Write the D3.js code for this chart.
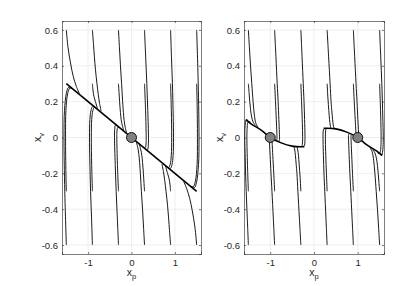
<!DOCTYPE html>
<html>
<head>
<meta charset="utf-8">
<script src="https://cdn.jsdelivr.net/npm/d3@7"></script>
<style>
  body { margin: 0; background: #fff; }
  text { font-family: "Liberation Sans", Arial, sans-serif; fill: #262626; }
</style>
</head>
<body>
<svg id="fig" width="415" height="286"></svg>
<script>
// axis limits and ticks
var xLimits = [-1.6, 1.6];
var yLimits = [-0.65, 0.65];
var xTicks = [-1, 0, 1];
var yTicks = [-0.6, -0.4, -0.2, 0, 0.2, 0.4, 0.6];

// equilibrium points (grey circles)
var leftEquilibria = [[0, 0]];
var rightEquilibria = [[-1, 0], [1, 0]];

// sliding curves
var leftSurface = [[-1.5, 0.3], [1.5, -0.3]];
var rightSurfaceNeg = [[-1.56, 0.1], [-1.43, 0.075], [-1.2, 0.04], [-1, 0], [-0.75, -0.03], [-0.5, -0.048], [-0.3, -0.052], [-0.22, -0.051]];
var rightSurfacePos = [[0.22, 0.051], [0.3, 0.052], [0.5, 0.048], [0.75, 0.03], [1, 0], [1.2, -0.04], [1.43, -0.075], [1.56, -0.1]];

// trajectories of the left panel, [x_p, x_v] points
var leftTrajectories = [
  [[-1.5, 0.6], [-1.46, 0.5], [-1.40, 0.41], [-1.34, 0.34], [-1.27, 0.285], [-1.2, 0.245]],
  [[-1.5, -0.3], [-1.51, -0.2], [-1.518, 0], [-1.51, 0.15], [-1.47, 0.245], [-1.42, 0.275], [-1.35, 0.27]],
  [[-1.5, -0.6], [-1.536, -0.3], [-1.554, 0], [-1.543, 0.15], [-1.497, 0.25], [-1.448, 0.28], [-1.38, 0.276]],
  [[-0.9, 0.6], [-0.875, 0.52], [-0.854, 0.45], [-0.83, 0.38], [-0.795, 0.3], [-0.765, 0.24], [-0.735, 0.19], [-0.7, 0.148]],
  [[-0.9, 0.3], [-0.885, 0.26], [-0.865, 0.23], [-0.83, 0.2], [-0.78, 0.158]],
  [[-0.9, -0.3], [-0.917, -0.15], [-0.925, 0], [-0.916, 0.1], [-0.89, 0.15], [-0.855, 0.168], [-0.8, 0.162]],
  [[-0.9, -0.6], [-0.92, -0.45], [-0.942, -0.3], [-0.96, -0.12], [-0.967, 0], [-0.958, 0.1], [-0.933, 0.15], [-0.897, 0.172], [-0.84, 0.17]],
  [[-0.3, 0.6], [-0.277, 0.5], [-0.254, 0.4], [-0.228, 0.3], [-0.204, 0.2], [-0.18, 0.12], [-0.155, 0.07], [-0.115, 0.027]],
  [[-0.3, 0.3], [-0.287, 0.25], [-0.274, 0.2], [-0.255, 0.14], [-0.238, 0.1], [-0.215, 0.07], [-0.18, 0.04]],
  [[-0.3, -0.3], [-0.324, -0.15], [-0.338, 0], [-0.336, 0.03], [-0.327, 0.05], [-0.31, 0.058], [-0.27, 0.055]],
  [[-0.3, -0.6], [-0.326, -0.45], [-0.353, -0.3], [-0.375, -0.15], [-0.391, 0], [-0.386, 0.045], [-0.37, 0.068], [-0.33, 0.067]],
  [[0.3, 0.6], [0.326, 0.45], [0.353, 0.3], [0.375, 0.15], [0.391, 0], [0.386, -0.045], [0.37, -0.068], [0.33, -0.067]],
  [[0.3, 0.3], [0.324, 0.15], [0.338, 0], [0.336, -0.03], [0.327, -0.05], [0.31, -0.058], [0.27, -0.055]],
  [[0.3, -0.3], [0.287, -0.25], [0.274, -0.2], [0.255, -0.14], [0.238, -0.1], [0.215, -0.07], [0.18, -0.04]],
  [[0.3, -0.6], [0.277, -0.5], [0.254, -0.4], [0.228, -0.3], [0.204, -0.2], [0.18, -0.12], [0.155, -0.07], [0.115, -0.027]],
  [[0.9, 0.6], [0.92, 0.45], [0.942, 0.3], [0.96, 0.12], [0.967, 0], [0.958, -0.1], [0.933, -0.15], [0.897, -0.172], [0.84, -0.17]],
  [[0.9, 0.3], [0.917, 0.15], [0.925, 0], [0.916, -0.1], [0.89, -0.15], [0.855, -0.168], [0.8, -0.162]],
  [[0.9, -0.3], [0.885, -0.26], [0.865, -0.23], [0.83, -0.2], [0.78, -0.158]],
  [[0.9, -0.6], [0.875, -0.52], [0.854, -0.45], [0.83, -0.38], [0.795, -0.3], [0.765, -0.24], [0.735, -0.19], [0.7, -0.148]],
  [[1.5, 0.6], [1.536, 0.3], [1.554, 0], [1.543, -0.15], [1.497, -0.25], [1.448, -0.28], [1.38, -0.276]],
  [[1.5, 0.3], [1.51, 0.2], [1.518, 0], [1.51, -0.15], [1.47, -0.245], [1.42, -0.275], [1.35, -0.27]],
  [[1.5, -0.6], [1.46, -0.5], [1.40, -0.41], [1.34, -0.34], [1.27, -0.285], [1.2, -0.245]]
];

// trajectories of the right panel
var rightTrajectories = [
  [[-1.5, 0.6], [-1.476, 0.5], [-1.451, 0.4], [-1.422, 0.3], [-1.392, 0.2], [-1.365, 0.13], [-1.33, 0.08], [-1.28, 0.055]],
  [[-1.5, 0.3], [-1.484, 0.25], [-1.468, 0.2], [-1.45, 0.155], [-1.425, 0.115], [-1.39, 0.085], [-1.34, 0.068]],
  [[-1.5, -0.3], [-1.521, -0.15], [-1.534, 0], [-1.529, 0.05], [-1.515, 0.08], [-1.49, 0.09], [-1.45, 0.085]],
  [[-1.5, -0.6], [-1.525, -0.45], [-1.55, -0.3], [-1.572, -0.12], [-1.583, 0], [-1.579, 0.05], [-1.565, 0.085], [-1.545, 0.1], [-1.5, 0.093]],
  [[-0.9, 0.6], [-0.87, 0.45], [-0.841, 0.3], [-0.82, 0.2], [-0.803, 0.1], [-0.792, 0.03], [-0.788, -0.01], [-0.795, -0.02]],
  [[-0.9, 0.3], [-0.88, 0.2], [-0.862, 0.1], [-0.85, 0.03], [-0.846, -0.005], [-0.85, -0.014]],
  [[-0.9, -0.3], [-0.92, -0.2], [-0.942, -0.1], [-0.955, -0.04], [-0.961, -0.015], [-0.965, -0.005]],
  [[-0.9, -0.6], [-0.93, -0.45], [-0.961, -0.3], [-0.983, -0.2], [-1.003, -0.1], [-1.015, -0.045], [-1.022, -0.015], [-1.024, 0.002], [-1.01, 0.003]],
  [[-0.3, 0.6], [-0.273, 0.45], [-0.246, 0.3], [-0.228, 0.2], [-0.215, 0.1], [-0.207, 0.02], [-0.208, -0.025], [-0.218, -0.044], [-0.25, -0.052]],
  [[-0.3, 0.3], [-0.284, 0.2], [-0.269, 0.1], [-0.261, 0.02], [-0.263, -0.03], [-0.273, -0.045], [-0.3, -0.052]],
  [[-0.3, -0.3], [-0.318, -0.22], [-0.339, -0.15], [-0.355, -0.1], [-0.372, -0.07], [-0.39, -0.052], [-0.42, -0.05]],
  [[-0.3, -0.6], [-0.334, -0.45], [-0.368, -0.3], [-0.39, -0.2], [-0.407, -0.15], [-0.425, -0.1], [-0.44, -0.07], [-0.46, -0.053], [-0.5, -0.049]],
  [[0.3, 0.6], [0.334, 0.45], [0.368, 0.3], [0.39, 0.2], [0.407, 0.15], [0.425, 0.1], [0.44, 0.07], [0.46, 0.053], [0.5, 0.049]],
  [[0.3, 0.3], [0.318, 0.22], [0.339, 0.15], [0.355, 0.1], [0.372, 0.07], [0.39, 0.052], [0.42, 0.05]],
  [[0.3, -0.3], [0.284, -0.2], [0.269, -0.1], [0.261, -0.02], [0.263, 0.03], [0.273, 0.045], [0.3, 0.052]],
  [[0.3, -0.6], [0.273, -0.45], [0.246, -0.3], [0.228, -0.2], [0.215, -0.1], [0.207, -0.02], [0.208, 0.025], [0.218, 0.044], [0.25, 0.052]],
  [[0.9, 0.6], [0.93, 0.45], [0.961, 0.3], [0.983, 0.2], [1.003, 0.1], [1.015, 0.045], [1.022, 0.015], [1.024, -0.002], [1.01, -0.003]],
  [[0.9, 0.3], [0.92, 0.2], [0.942, 0.1], [0.955, 0.04], [0.961, 0.015], [0.965, 0.005]],
  [[0.9, -0.3], [0.88, -0.2], [0.862, -0.1], [0.85, -0.03], [0.846, 0.005], [0.85, 0.014]],
  [[0.9, -0.6], [0.87, -0.45], [0.841, -0.3], [0.82, -0.2], [0.803, -0.1], [0.792, -0.03], [0.788, 0.01], [0.795, 0.02]],
  [[1.5, 0.6], [1.525, 0.45], [1.55, 0.3], [1.572, 0.12], [1.583, 0], [1.579, -0.05], [1.565, -0.085], [1.545, -0.1], [1.5, -0.093]],
  [[1.5, 0.3], [1.521, 0.15], [1.534, 0], [1.529, -0.05], [1.515, -0.08], [1.49, -0.09], [1.45, -0.085]],
  [[1.5, -0.3], [1.484, -0.25], [1.468, -0.2], [1.45, -0.155], [1.425, -0.115], [1.39, -0.085], [1.34, -0.068]],
  [[1.5, -0.6], [1.476, -0.5], [1.451, -0.4], [1.422, -0.3], [1.392, -0.2], [1.365, -0.13], [1.33, -0.08], [1.28, -0.055]]
];

var svg = d3.select("#fig");
var plotTop = 21, plotBottom = 254;

var panels = [
  { id: "a", left: 62, right: 201, traj: leftTrajectories, surfaces: [leftSurface], eq: leftEquilibria },
  { id: "b", left: 244, right: 384, traj: rightTrajectories, surfaces: [rightSurfaceNeg, rightSurfacePos], eq: rightEquilibria }
];

panels.forEach(function (p) {
  var x = d3.scaleLinear().domain(xLimits).range([p.left, p.right]);
  var y = d3.scaleLinear().domain(yLimits).range([plotBottom, plotTop]);
  var g = svg.append("g");

  svg.append("clipPath").attr("id", "clip-" + p.id)
    .append("rect")
    .attr("x", p.left).attr("y", plotTop)
    .attr("width", p.right - p.left).attr("height", plotBottom - plotTop);

  // grid
  g.selectAll("line.gx").data(xTicks).join("line")
    .attr("x1", function (d) { return x(d); }).attr("x2", function (d) { return x(d); })
    .attr("y1", plotTop).attr("y2", plotBottom)
    .attr("stroke", "#e4e4e4").attr("stroke-width", 0.6);
  g.selectAll("line.gy").data(yTicks).join("line")
    .attr("y1", function (d) { return y(d); }).attr("y2", function (d) { return y(d); })
    .attr("x1", p.left).attr("x2", p.right)
    .attr("stroke", "#e4e4e4").attr("stroke-width", 0.6);

  var line = d3.line()
    .x(function (d) { return x(d[0]); })
    .y(function (d) { return y(d[1]); })
    .curve(d3.curveCatmullRom.alpha(0.5));

  var marks = g.append("g").attr("clip-path", "url(#clip-" + p.id + ")");

  marks.selectAll("path.traj").data(p.traj).join("path")
    .attr("d", line)
    .attr("fill", "none").attr("stroke", "#000").attr("stroke-width", 0.9);

  marks.selectAll("path.surf").data(p.surfaces).join("path")
    .attr("d", line)
    .attr("fill", "none").attr("stroke", "#000").attr("stroke-width", 1.6);

  marks.selectAll("circle").data(p.eq).join("circle")
    .attr("cx", function (d) { return x(d[0]); })
    .attr("cy", function (d) { return y(d[1]); })
    .attr("r", 5)
    .attr("fill", "#808080").attr("stroke", "#000").attr("stroke-width", 0.9);

  // axes (box with inward ticks like the original)
  var fmt = function (d) { return String(d); };
  var axB = g.append("g").attr("transform", "translate(0," + plotBottom + ")")
    .call(d3.axisBottom(x).tickValues(xTicks).tickSize(-2).tickPadding(5).tickFormat(fmt));
  var axL = g.append("g").attr("transform", "translate(" + p.left + ",0)")
    .call(d3.axisLeft(y).tickValues(yTicks).tickSize(-2).tickPadding(4).tickFormat(fmt));
  var axT = g.append("g").attr("transform", "translate(0," + plotTop + ")")
    .call(d3.axisTop(x).tickValues(xTicks).tickSize(-2).tickFormat(""));
  var axR = g.append("g").attr("transform", "translate(" + p.right + ",0)")
    .call(d3.axisRight(y).tickValues(yTicks).tickSize(-2).tickFormat(""));

  [axB, axL, axT, axR].forEach(function (a) {
    a.selectAll("path.domain").attr("stroke", "#262626").attr("stroke-width", 0.6);
    a.selectAll(".tick line").attr("stroke", "#262626").attr("stroke-width", 0.6);
    a.selectAll("text").attr("fill", "#262626")
      .style("font-size", "9.5px")
      .style("font-family", "'Liberation Sans', Arial, sans-serif");
  });

  // axis labels
  var cx = (p.left + p.right) / 2;
  var xl = g.append("text").attr("x", cx).attr("y", 276)
    .attr("text-anchor", "middle").style("font-size", "10.5px");
  xl.append("tspan").text("x");
  xl.append("tspan").attr("dy", 3).style("font-size", "7.5px").text("p");

  var ly = (plotTop + plotBottom) / 2;
  var yl = g.append("text")
    .attr("transform", "translate(" + (p.left - 21) + "," + ly + ") rotate(-90)")
    .attr("text-anchor", "middle").style("font-size", "10.5px");
  yl.append("tspan").text("x");
  yl.append("tspan").attr("dy", 3).style("font-size", "7.5px").text("v");
});
</script>
</body>
</html>
